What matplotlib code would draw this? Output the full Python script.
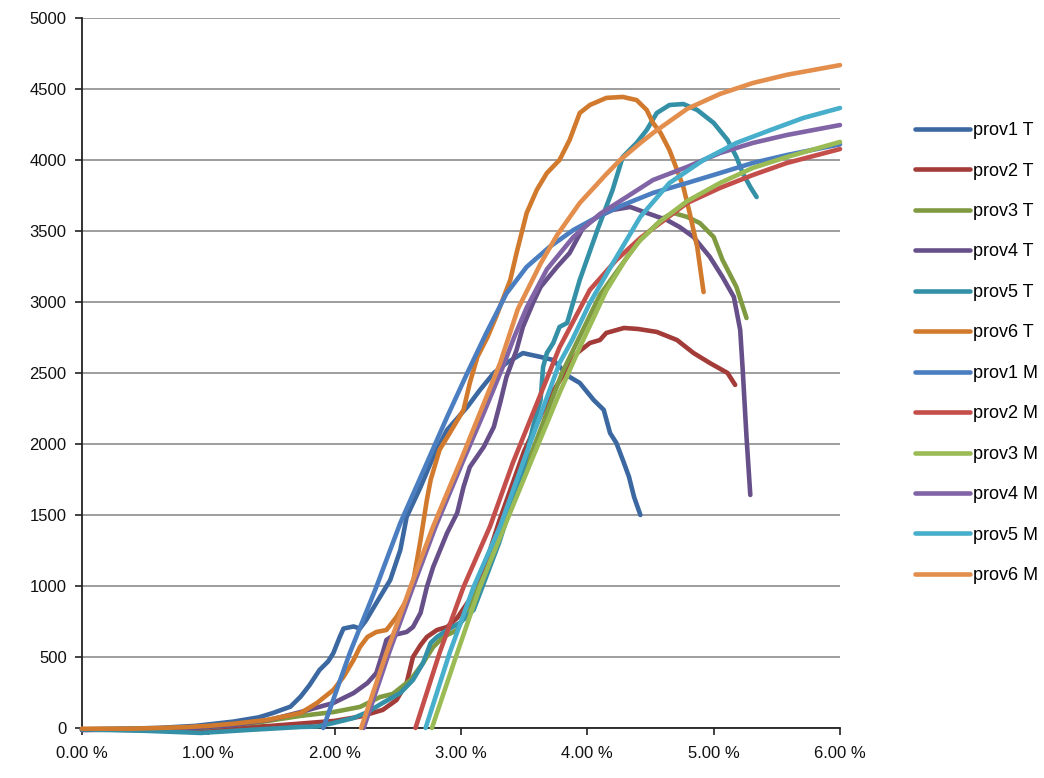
import matplotlib
matplotlib.use('Agg')
import matplotlib.pyplot as plt
from matplotlib.ticker import FuncFormatter, MultipleLocator

# strain in %, load
prov1_T_x = [0.0, 0.3, 0.6, 0.9, 1.2, 1.4, 1.51, 1.65, 1.73, 1.8, 1.88, 1.95, 1.99, 2.04, 2.07,
             2.15, 2.2, 2.25, 2.33, 2.44, 2.52, 2.57, 2.68, 2.78, 2.89, 3.05, 3.15, 3.26,
             3.36, 3.49, 3.63, 3.73, 3.86, 3.94, 4.05, 4.13, 4.18, 4.23, 4.29, 4.33, 4.37, 4.42]
prov1_T_y = [-10, -5, 0, 15, 45, 75, 105, 150, 220, 300, 408, 470, 528, 640, 700,
             715, 700, 760, 880, 1042, 1254, 1486, 1697, 1908, 2099, 2261, 2380, 2500,
             2570, 2640, 2613, 2591, 2472, 2430, 2310, 2240, 2077, 2007, 1866, 1768, 1627, 1500]

prov2_T_x = [0.0, 0.5, 1.0, 1.5, 2.0, 2.2, 2.38, 2.49, 2.57, 2.62, 2.68, 2.73, 2.81, 2.89, 2.97,
             3.05, 3.13, 3.3, 3.5, 3.7, 3.92, 4.02, 4.1, 4.15, 4.29, 4.4, 4.55, 4.71, 4.84,
             4.97, 5.11, 5.17]
prov2_T_y = [-10, -15, -10, 15, 50, 80, 127, 197, 317, 500, 584, 641, 690, 711, 775,
             880, 972, 1450, 1950, 2330, 2641, 2711, 2732, 2782, 2817, 2810, 2789, 2732, 2641,
             2570, 2500, 2416]

prov3_T_x = [0.0, 0.5, 1.0, 1.4, 1.73, 1.99, 2.2, 2.36, 2.46, 2.6, 2.7, 2.78, 2.86, 2.97, 3.2,
             3.5, 3.8, 4.1, 4.4, 4.6, 4.68, 4.79, 4.89, 5.0, 5.07, 5.18, 5.26]
prov3_T_y = [-10, -5, 5, 40, 85, 112, 148, 218, 240, 338, 458, 570, 641, 690, 1100,
             1800, 2500, 3050, 3420, 3590, 3627, 3599, 3556, 3458, 3296, 3106, 2887]

prov4_T_x = [0.0, 0.4, 0.8, 1.2, 1.5, 1.73, 1.99, 2.15, 2.26, 2.33, 2.38, 2.41, 2.47, 2.57, 2.62,
             2.68, 2.73, 2.78, 2.89, 2.97, 3.02, 3.07, 3.18, 3.26, 3.31, 3.36, 3.44, 3.49,
             3.57, 3.63, 3.76, 3.86, 3.97, 4.08, 4.2, 4.34, 4.47, 4.63, 4.73, 4.84, 4.97,
             5.07, 5.16, 5.21, 5.23, 5.26, 5.29]
prov4_T_y = [-15, -10, -5, 20, 60, 112, 176, 246, 317, 387, 528, 620, 655, 676, 711,
             810, 993, 1134, 1373, 1514, 1697, 1838, 1979, 2120, 2289, 2472, 2662, 2824,
             2993, 3106, 3247, 3345, 3528, 3599, 3648, 3669, 3627, 3577, 3528, 3458, 3317,
             3176, 3035, 2803, 2521, 2049, 1641]

prov5_T_x = [0.0, 0.5, 0.94, 1.3, 1.73, 1.86, 1.99, 2.15, 2.26, 2.38, 2.52, 2.62, 2.7, 2.76,
             2.81, 2.89, 2.99, 3.1, 3.3, 3.5, 3.57, 3.63, 3.65, 3.68, 3.73, 3.78, 3.84, 3.94,
             4.08, 4.2, 4.28, 4.39, 4.47, 4.55, 4.65, 4.76, 4.87, 5.0, 5.11, 5.18, 5.23,
             5.29, 5.34]
prov5_T_y = [-10, -20, -35, -15, 7, 10, 35, 70, 112, 176, 246, 338, 458, 599,
             641, 690, 739, 831, 1300, 1850, 2120, 2310, 2542, 2641, 2711, 2824, 2852, 3155,
             3507, 3789, 4021, 4120, 4211, 4331, 4387, 4394, 4352, 4261, 4141, 4021, 3908,
             3810, 3739]

prov6_T_x = [0.0, 0.4, 0.8, 1.0, 1.2, 1.46, 1.73, 1.86, 1.99, 2.07, 2.15, 2.2, 2.26, 2.33, 2.41,
             2.49, 2.57, 2.62, 2.68, 2.73, 2.76, 2.83, 2.94, 3.02, 3.07, 3.13, 3.21, 3.28,
             3.39, 3.44, 3.52, 3.6, 3.68, 3.78, 3.86, 3.94, 4.02, 4.15, 4.28, 4.39, 4.47,
             4.52, 4.58, 4.65, 4.71, 4.76, 4.81, 4.87, 4.92]
prov6_T_y = [-5, -5, 5, 15, 30, 56, 105, 176, 268, 360, 479, 570, 641, 676, 690,
             782, 901, 1021, 1324, 1606, 1747, 1958, 2120, 2240, 2430, 2613, 2753, 2900,
             3155, 3345, 3627, 3789, 3908, 4000, 4141, 4331, 4387, 4437, 4444, 4422, 4352,
             4261, 4190, 4070, 3930, 3810, 3627, 3387, 3070]

prov1_M_x = [1.91, 2.12, 2.33, 2.52, 2.73, 2.89, 3.05, 3.2, 3.36, 3.52, 3.7, 3.89, 4.08, 4.26,
             4.52, 4.79, 5.05, 5.31, 5.58, 6.0]
prov1_M_y = [0, 528, 993, 1444, 1866, 2190, 2500, 2780, 3060, 3247, 3387, 3507, 3599, 3675,
             3768, 3838, 3908, 3979, 4035, 4110]

prov2_M_x = [2.64, 2.83, 3.02, 3.23, 3.41, 3.57, 3.78, 4.02, 4.23, 4.42, 4.79, 5.05, 5.31, 5.58, 6.0]
prov2_M_y = [0, 528, 993, 1420, 1866, 2218, 2680, 3085, 3296, 3451, 3697, 3803, 3894, 3979, 4077]

prov3_M_x = [2.77, 2.97, 3.15, 3.31, 3.55, 3.78, 3.94, 4.15, 4.31, 4.42, 4.58, 4.79, 5.05, 5.31,
             5.58, 6.0]
prov3_M_y = [0, 528, 993, 1345, 1866, 2359, 2680, 3080, 3310, 3437, 3570, 3710, 3838, 3944,
             4021, 4127]

prov4_M_x = [2.23, 2.43, 2.62, 2.8, 3.01, 3.18, 3.33, 3.42, 3.52, 3.68, 3.89, 4.1, 4.31, 4.52,
             4.79, 5.05, 5.31, 5.58, 6.0]
prov4_M_y = [0, 528, 993, 1420, 1866, 2218, 2540, 2750, 2960, 3230, 3458, 3620, 3739, 3859,
             3951, 4049, 4120, 4176, 4246]

prov5_M_x = [2.72, 2.91, 3.1, 3.31, 3.49, 3.78, 3.88, 4.02, 4.2, 4.42, 4.65, 4.92, 5.18, 5.45,
             5.71, 6.0]
prov5_M_y = [0, 528, 993, 1420, 1866, 2570, 2732, 2993, 3270, 3600, 3838, 4000, 4120, 4211,
             4296, 4366]

prov6_M_x = [2.21, 2.41, 2.6, 2.78, 2.99, 3.15, 3.31, 3.45, 3.63, 3.76, 3.94, 4.15, 4.26, 4.42,
             4.52, 4.79, 5.05, 5.31, 5.58, 6.0]
prov6_M_y = [0, 528, 993, 1420, 1866, 2218, 2570, 2950, 3270, 3470, 3697, 3900, 4000, 4120,
             4190, 4360, 4465, 4542, 4600, 4668]

series = [
    ('prov1 T', prov1_T_x, prov1_T_y, '#3B68A0'),
    ('prov2 T', prov2_T_x, prov2_T_y, '#A33B38'),
    ('prov3 T', prov3_T_x, prov3_T_y, '#809A42'),
    ('prov4 T', prov4_T_x, prov4_T_y, '#67508A'),
    ('prov5 T', prov5_T_x, prov5_T_y, '#3490A6'),
    ('prov6 T', prov6_T_x, prov6_T_y, '#D17A2E'),
    ('prov1 M', prov1_M_x, prov1_M_y, '#4A7EC0'),
    ('prov2 M', prov2_M_x, prov2_M_y, '#C44E4A'),
    ('prov3 M', prov3_M_x, prov3_M_y, '#9BBB55'),
    ('prov4 M', prov4_M_x, prov4_M_y, '#8064A6'),
    ('prov5 M', prov5_M_x, prov5_M_y, '#47AECB'),
    ('prov6 M', prov6_M_x, prov6_M_y, '#E38E4C'),
]

plt.rcParams['font.family'] = ['Liberation Sans', 'DejaVu Sans']

fig = plt.figure(figsize=(10.44, 7.78), dpi=100)
ax = fig.add_axes([0.0785, 0.0643, 0.7261, 0.9126])

for name, xs, ys, col in series:
    ax.plot(xs, ys, color=col, lw=3.3, label=name, zorder=3, clip_on=False,
            solid_capstyle='round', solid_joinstyle='round')

ax.set_xlim(0, 6)
ax.set_ylim(0, 5000)
ax.xaxis.set_major_locator(MultipleLocator(1))
ax.yaxis.set_major_locator(MultipleLocator(500))
ax.xaxis.set_major_formatter(FuncFormatter(lambda v, p: f'{v:.2f} %'))
ax.yaxis.set_major_formatter(FuncFormatter(lambda v, p: f'{v:.0f}'))
ax.grid(axis='y', color='#8c8c8c', lw=1.2)
ax.set_axisbelow(True)
for s in ['top', 'right']:
    ax.spines[s].set_visible(False)
for s in ['left', 'bottom']:
    ax.spines[s].set_color('#222222')
    ax.spines[s].set_linewidth(1.3)
ax.tick_params(axis='both', direction='out', length=5, width=1.2, color='#222222',
               labelsize=12, labelcolor='#111111')
ax.tick_params(axis='x', pad=8)
ax.tick_params(axis='y', pad=6)

fig.legend(loc='upper left', bbox_to_anchor=(0.861, 0.864), frameon=False,
           fontsize=13, handlelength=3.05, handletextpad=0.17, labelspacing=1.3)

fig.savefig('out.png', dpi=100)
